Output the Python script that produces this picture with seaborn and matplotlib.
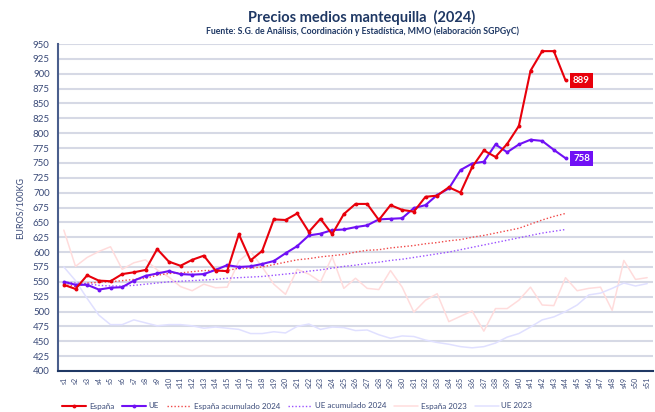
import numpy as np
import pandas as pd
import matplotlib
matplotlib.use("Agg")
import matplotlib.pyplot as plt
import seaborn as sns
from matplotlib.ticker import MultipleLocator

# ---------------- data ----------------
weeks = [f"s{i}" for i in range(1, 52)]

espana_2024 = [545, 538, 561, 552, 551, 563, 566, 570, 605, 584, 577, 587, 594, 569, 568,
               630, 586, 602, 655, 654, 665, 634, 656, 630, 664, 681, 681, 654, 679, 671,
               668, 693, 695, 709, 700, 743, 771, 760, 782, 812, 905, 938, 938, 889]

ue_2024 = [550, 545, 545, 537, 540, 541, 552, 560, 564, 568, 563, 562, 563, 570, 578,
           575, 576, 580, 585, 598, 610, 628, 631, 637, 638, 642, 645, 655, 656, 657,
           674, 679, 696, 707, 738, 749, 752, 781, 768, 781, 789, 787, 772, 758]

espana_acum_2024 = [546, 542, 548, 549, 550, 552, 554, 556, 561, 564, 565, 567, 569, 569, 569,
                    573, 573, 575, 579, 583, 587, 589, 592, 594, 596, 600, 603, 604, 607, 609,
                    611, 614, 616, 619, 621, 625, 628, 632, 636, 640, 647, 654, 660, 665]

ue_acum_2024 = [550, 548, 547, 544, 543, 543, 544, 546, 548, 550, 551, 552, 553, 554, 556,
                557, 558, 559, 561, 563, 565, 568, 570, 573, 576, 578, 581, 583, 586, 588,
                591, 594, 597, 600, 604, 608, 612, 616, 620, 624, 628, 632, 635, 638]

espana_2023 = [637, 576, 591, 601, 609, 571, 582, 587, 570, 558, 542, 535, 546, 540, 541,
               585, 601, 575, 546, 529, 571, 563, 550, 592, 539, 556, 539, 537, 569, 541,
               499, 519, 530, 483, 492, 501, 467, 505, 505, 519, 541, 511, 510, 557, 535,
               539, 541, 502, 586, 554, 557]

ue_2023 = [575, 552, 522, 494, 478, 478, 486, 481, 476, 478, 478, 476, 472, 474, 472,
           470, 463, 463, 466, 464, 475, 479, 470, 474, 473, 468, 469, 461, 455, 459,
           458, 452, 448, 445, 441, 439, 441, 447, 457, 463, 474, 486, 491, 500, 511,
           528, 531, 539, 548, 543, 547]

# ---------------- style ----------------
sns.set_style("white")
plt.rcParams['font.family'] = ['Lato', 'DejaVu Sans']

navy = "#1F3864"
tick_col = "#3A4A78"
red = "#E8000B"
purple = "#7010F5"

fig = plt.figure(figsize=(6.55, 4.12), dpi=100)
ax = fig.add_axes([58/655, 1-371/412, (653-58)/655, (371-44)/412])

def series_df(vals):
    return pd.DataFrame({"x": np.arange(len(vals)), "y": vals})

sns.lineplot(data=series_df(espana_2023), x="x", y="y", ax=ax, color="#FFDCDC",
             linewidth=1.1, label="España 2023", zorder=2)
sns.lineplot(data=series_df(ue_2023), x="x", y="y", ax=ax, color="#E0E0FF",
             linewidth=1.1, label="UE 2023", zorder=2)
sns.lineplot(data=series_df(espana_acum_2024), x="x", y="y", ax=ax, color="#F04848",
             linewidth=1.0, linestyle=(0, (1, 1.5)), label="España acumulado 2024", zorder=3)
sns.lineplot(data=series_df(ue_acum_2024), x="x", y="y", ax=ax, color="#9A50FF",
             linewidth=1.0, linestyle=(0, (1, 1.5)), label="UE acumulado 2024", zorder=3)
sns.lineplot(data=series_df(ue_2024), x="x", y="y", ax=ax, color=purple,
             linewidth=1.5, marker="o", markersize=2.8, markeredgewidth=0,
             label="UE", zorder=4)
sns.lineplot(data=series_df(espana_2024), x="x", y="y", ax=ax, color=red,
             linewidth=1.5, marker="o", markersize=2.8, markeredgewidth=0,
             label="España", zorder=5)

ax.set_xlim(-0.5, len(weeks) - 0.5)
ax.set_ylim(400, 950)
ax.yaxis.set_major_locator(MultipleLocator(25))
ax.grid(axis="y", color="#D6D9E5", linewidth=1.5)
ax.set_axisbelow(True)

ax.set_xticks(np.arange(len(weeks)))
ax.set_xticklabels(weeks, rotation=90, fontsize=5.0, color=tick_col)
ax.set_xticks(np.arange(len(weeks) + 1) - 0.5, minor=True)
ax.tick_params(axis="x", which="major", length=0, pad=4)
ax.tick_params(axis="x", which="minor", length=3, direction="in", color=navy, width=1)
ax.tick_params(axis="y", labelsize=7, colors=tick_col, length=0, pad=6)

for s in ["top", "right"]:
    ax.spines[s].set_visible(False)
ax.spines["left"].set_color("#4A5E8C")
ax.spines["left"].set_linewidth(1.5)
ax.spines["bottom"].set_color(navy)
ax.spines["bottom"].set_linewidth(1.5)

ax.set_xlabel("")
ax.set_ylabel("EUROS/100KG", fontsize=6.5, color=tick_col, labelpad=6)

# end labels
ax.annotate(f"{espana_2024[-1]}", xy=(len(espana_2024) - 1, espana_2024[-1]),
            xytext=(16, 0), textcoords="offset pixels", va="center", ha="center",
            fontsize=7, fontweight="bold", color="white",
            bbox=dict(boxstyle="square,pad=0.3", fc=red, ec="none"))
ax.annotate(f"{ue_2024[-1]}", xy=(len(ue_2024) - 1, ue_2024[-1]),
            xytext=(16, 0), textcoords="offset pixels", va="center", ha="center",
            fontsize=7, fontweight="bold", color="white",
            bbox=dict(boxstyle="square,pad=0.3", fc=purple, ec="none"))

# legend
handles, labels = ax.get_legend_handles_labels()
order = ["España", "UE", "España acumulado 2024", "UE acumulado 2024", "España 2023", "UE 2023"]
hmap = dict(zip(labels, handles))
ax.legend([hmap[k] for k in order], order, loc="center left",
          bbox_to_anchor=(55/655, 6/412), bbox_transform=fig.transFigure,
          ncol=6, frameon=False, fontsize=5.8, handlelength=3.0,
          columnspacing=1.0, handletextpad=0.3, labelcolor=tick_col)

fig.text(362/655, 1-17/412, "Precios medios mantequilla  (2024)", ha="center", va="center",
         fontsize=10.5, fontweight="bold", color=navy)
fig.text(362/655, 1-31/412,
         "Fuente: S.G. de Análisis, Coordinación y Estadística, MMO (elaboración SGPGyC)",
         ha="center", va="center", fontsize=6.3, fontweight="bold", color=navy)

fig.savefig("out.png", dpi=100)
